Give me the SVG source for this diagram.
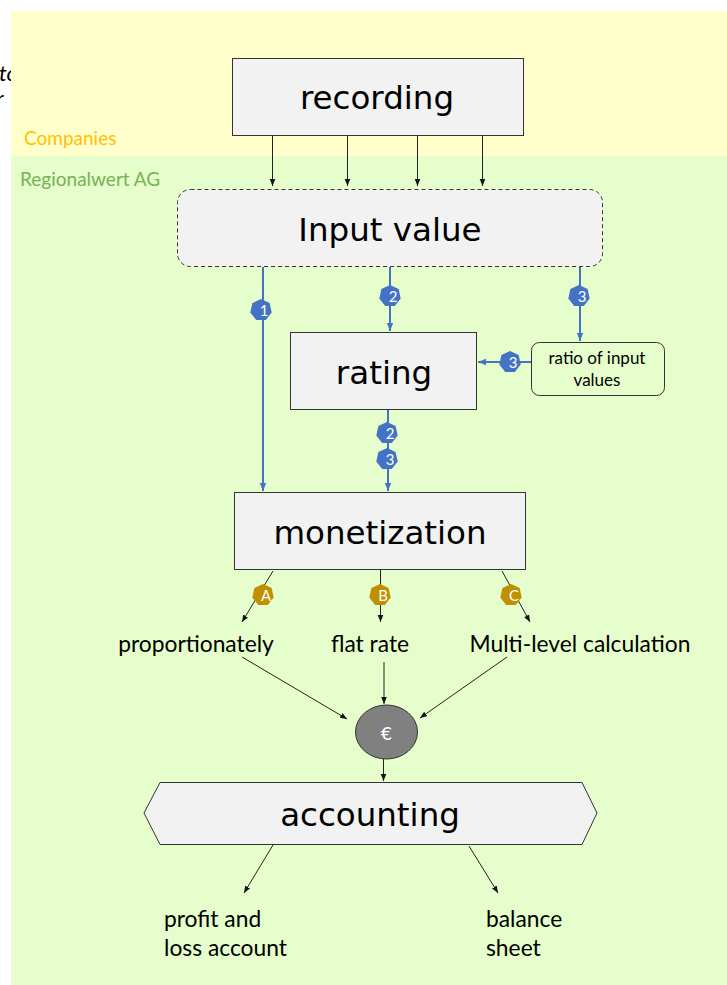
<svg xmlns="http://www.w3.org/2000/svg" width="727" height="985" viewBox="0 0 727 985">
<style>
.box{fill:#f2f2f2;stroke:#333;stroke-width:1}
.big{font-family:"DejaVu Sans",sans-serif;font-size:32.5px;fill:#000;text-anchor:middle}
.lbl{font-family:Lato,"Liberation Sans",sans-serif;font-size:22.8px;fill:#000}
.small{font-family:Lato,"Liberation Sans",sans-serif;font-size:17px;fill:#000;text-anchor:middle}
.blk{stroke:#222;stroke-width:1;fill:none;marker-end:url(#ah)}
.bluA{stroke:#4472c4;stroke-width:2;fill:none;marker-end:url(#bh)}
.bt{font-family:Lato,"Liberation Sans",sans-serif;font-size:15px;fill:#fff;text-anchor:middle}
</style>
<defs>
<marker id="ah" viewBox="0 0 10 10" refX="10" refY="5" markerUnits="userSpaceOnUse" markerWidth="7" markerHeight="7" orient="auto"><path d="M0,1 L10,5 L0,9 z" fill="#111"/></marker>
<marker id="bh" viewBox="0 0 10 10" refX="10" refY="5" markerUnits="userSpaceOnUse" markerWidth="8" markerHeight="8" orient="auto"><path d="M0,1 L10,5 L0,9 z" fill="#4472c4"/></marker>
<polygon id="hep" points="0,-11 8.6,-6.9 10.7,2.4 4.8,9.9 -4.8,9.9 -10.7,2.4 -8.6,-6.9"/>
</defs>
<rect width="727" height="985" fill="#fff"/>
<text x="-1" y="81" font-family="Lato,'Liberation Sans',sans-serif" font-style="italic" font-size="22">to</text>
<text x="-4" y="106" font-family="Lato,'Liberation Sans',sans-serif" font-style="italic" font-size="22">r</text>
<g id="lane-companies">
<rect x="11" y="11" width="716" height="145" fill="#ffffcc"/>
<text x="24" y="145" font-family="Lato,'Liberation Sans',sans-serif" font-size="19" fill="#ffc000">Companies</text>
</g>
<g id="lane-regionalwert">
<rect x="11" y="156" width="716" height="829" fill="#e5fecb"/>
<text x="20" y="186" font-family="Lato,'Liberation Sans',sans-serif" font-size="19" fill="#77b255">Regionalwert AG</text>
</g>
<g id="connectors">
<line class="blk" x1="272.5" y1="136" x2="272.5" y2="186"/>
<line class="blk" x1="347.5" y1="136" x2="347.5" y2="186"/>
<line class="blk" x1="417.5" y1="136" x2="417.5" y2="186"/>
<line class="blk" x1="482.5" y1="136" x2="482.5" y2="186"/>
<line class="bluA" x1="263" y1="267" x2="263" y2="491"/>
<line class="bluA" x1="390" y1="267" x2="390" y2="331"/>
<line class="bluA" x1="580" y1="267" x2="580" y2="341"/>
<line class="bluA" x1="531" y1="362" x2="478" y2="362"/>
<line class="bluA" x1="388" y1="410" x2="388" y2="491"/>
<line class="blk" x1="273" y1="571" x2="242" y2="622"/>
<line class="blk" x1="380.5" y1="570" x2="380.5" y2="622"/>
<line class="blk" x1="502" y1="571" x2="530" y2="622"/>
<line class="blk" x1="242" y1="657" x2="347" y2="719"/>
<line class="blk" x1="384" y1="662" x2="384" y2="704"/>
<line class="blk" x1="507" y1="657" x2="420" y2="718"/>
<line class="blk" x1="383.5" y1="759" x2="383.5" y2="781"/>
<line class="blk" x1="273" y1="845" x2="244" y2="893"/>
<line class="blk" x1="469" y1="846" x2="498" y2="893"/>
<g fill="#4472c4">
<use href="#hep" x="261" y="310"/><text class="bt" x="264" y="316">1</text>
<use href="#hep" x="390" y="296"/><text class="bt" x="393" y="302">2</text>
<use href="#hep" x="579" y="296"/><text class="bt" x="582" y="302">3</text>
<use href="#hep" x="510" y="362"/><text class="bt" x="513" y="368">3</text>
<use href="#hep" x="387" y="433"/><text class="bt" x="390" y="439">2</text>
<use href="#hep" x="387" y="459"/><text class="bt" x="390" y="465">3</text>
</g>
<g fill="#bf9000">
<use href="#hep" x="263" y="595"/><text class="bt" x="266" y="601">A</text>
<use href="#hep" x="380" y="595"/><text class="bt" x="383" y="601">B</text>
<use href="#hep" x="511" y="595"/><text class="bt" x="514" y="601">C</text>
</g>
</g>
<g id="recording">
<rect class="box" x="232.5" y="58.5" width="291" height="77"/>
<text class="big" x="377" y="109">recording</text>
</g>
<g id="input-value">
<rect x="177.5" y="189.5" width="425" height="77" rx="13" fill="#f2f2f2" stroke="#333" stroke-dasharray="4,3"/>
<text class="big" x="390" y="241">Input value</text>
</g>
<g id="rating">
<rect class="box" x="290.5" y="332.5" width="186" height="77"/>
<text class="big" x="384" y="384">rating</text>
</g>
<g id="ratio">
<rect x="531.5" y="342.5" width="133" height="53" rx="8" fill="#e5fecb" stroke="#333"/>
<text class="small" x="597" y="364">ratio of input</text>
<text class="small" x="597" y="386">values</text>
</g>
<g id="monetization">
<rect class="box" x="234.5" y="492.5" width="291" height="77"/>
<text class="big" x="380" y="544">monetization</text>
</g>
<g id="proportionately"><text class="lbl" x="196" y="652" text-anchor="middle">proportionately</text></g>
<g id="flat-rate"><text class="lbl" x="370" y="652" text-anchor="middle">flat rate</text></g>
<g id="multi-level"><text class="lbl" x="580" y="652" text-anchor="middle">Multi-level calculation</text></g>
<g id="euro">
<ellipse cx="386.5" cy="732" rx="31" ry="27" fill="#808080" stroke="#333"/>
<text x="386.5" y="740" font-family="'DejaVu Sans',sans-serif" font-size="18" fill="#fff" text-anchor="middle">€</text>
</g>
<g id="accounting">
<polygon class="box" points="144,813 160,782.5 582,782.5 597,813 582,844.5 160,844.5"/>
<text class="big" x="370" y="826">accounting</text>
</g>
<g id="pl">
<text class="lbl" x="164" y="927">profit and</text>
<text class="lbl" x="164" y="956">loss account</text>
</g>
<g id="balance">
<text class="lbl" x="486" y="927">balance</text>
<text class="lbl" x="486" y="956">sheet</text>
</g>
</svg>
